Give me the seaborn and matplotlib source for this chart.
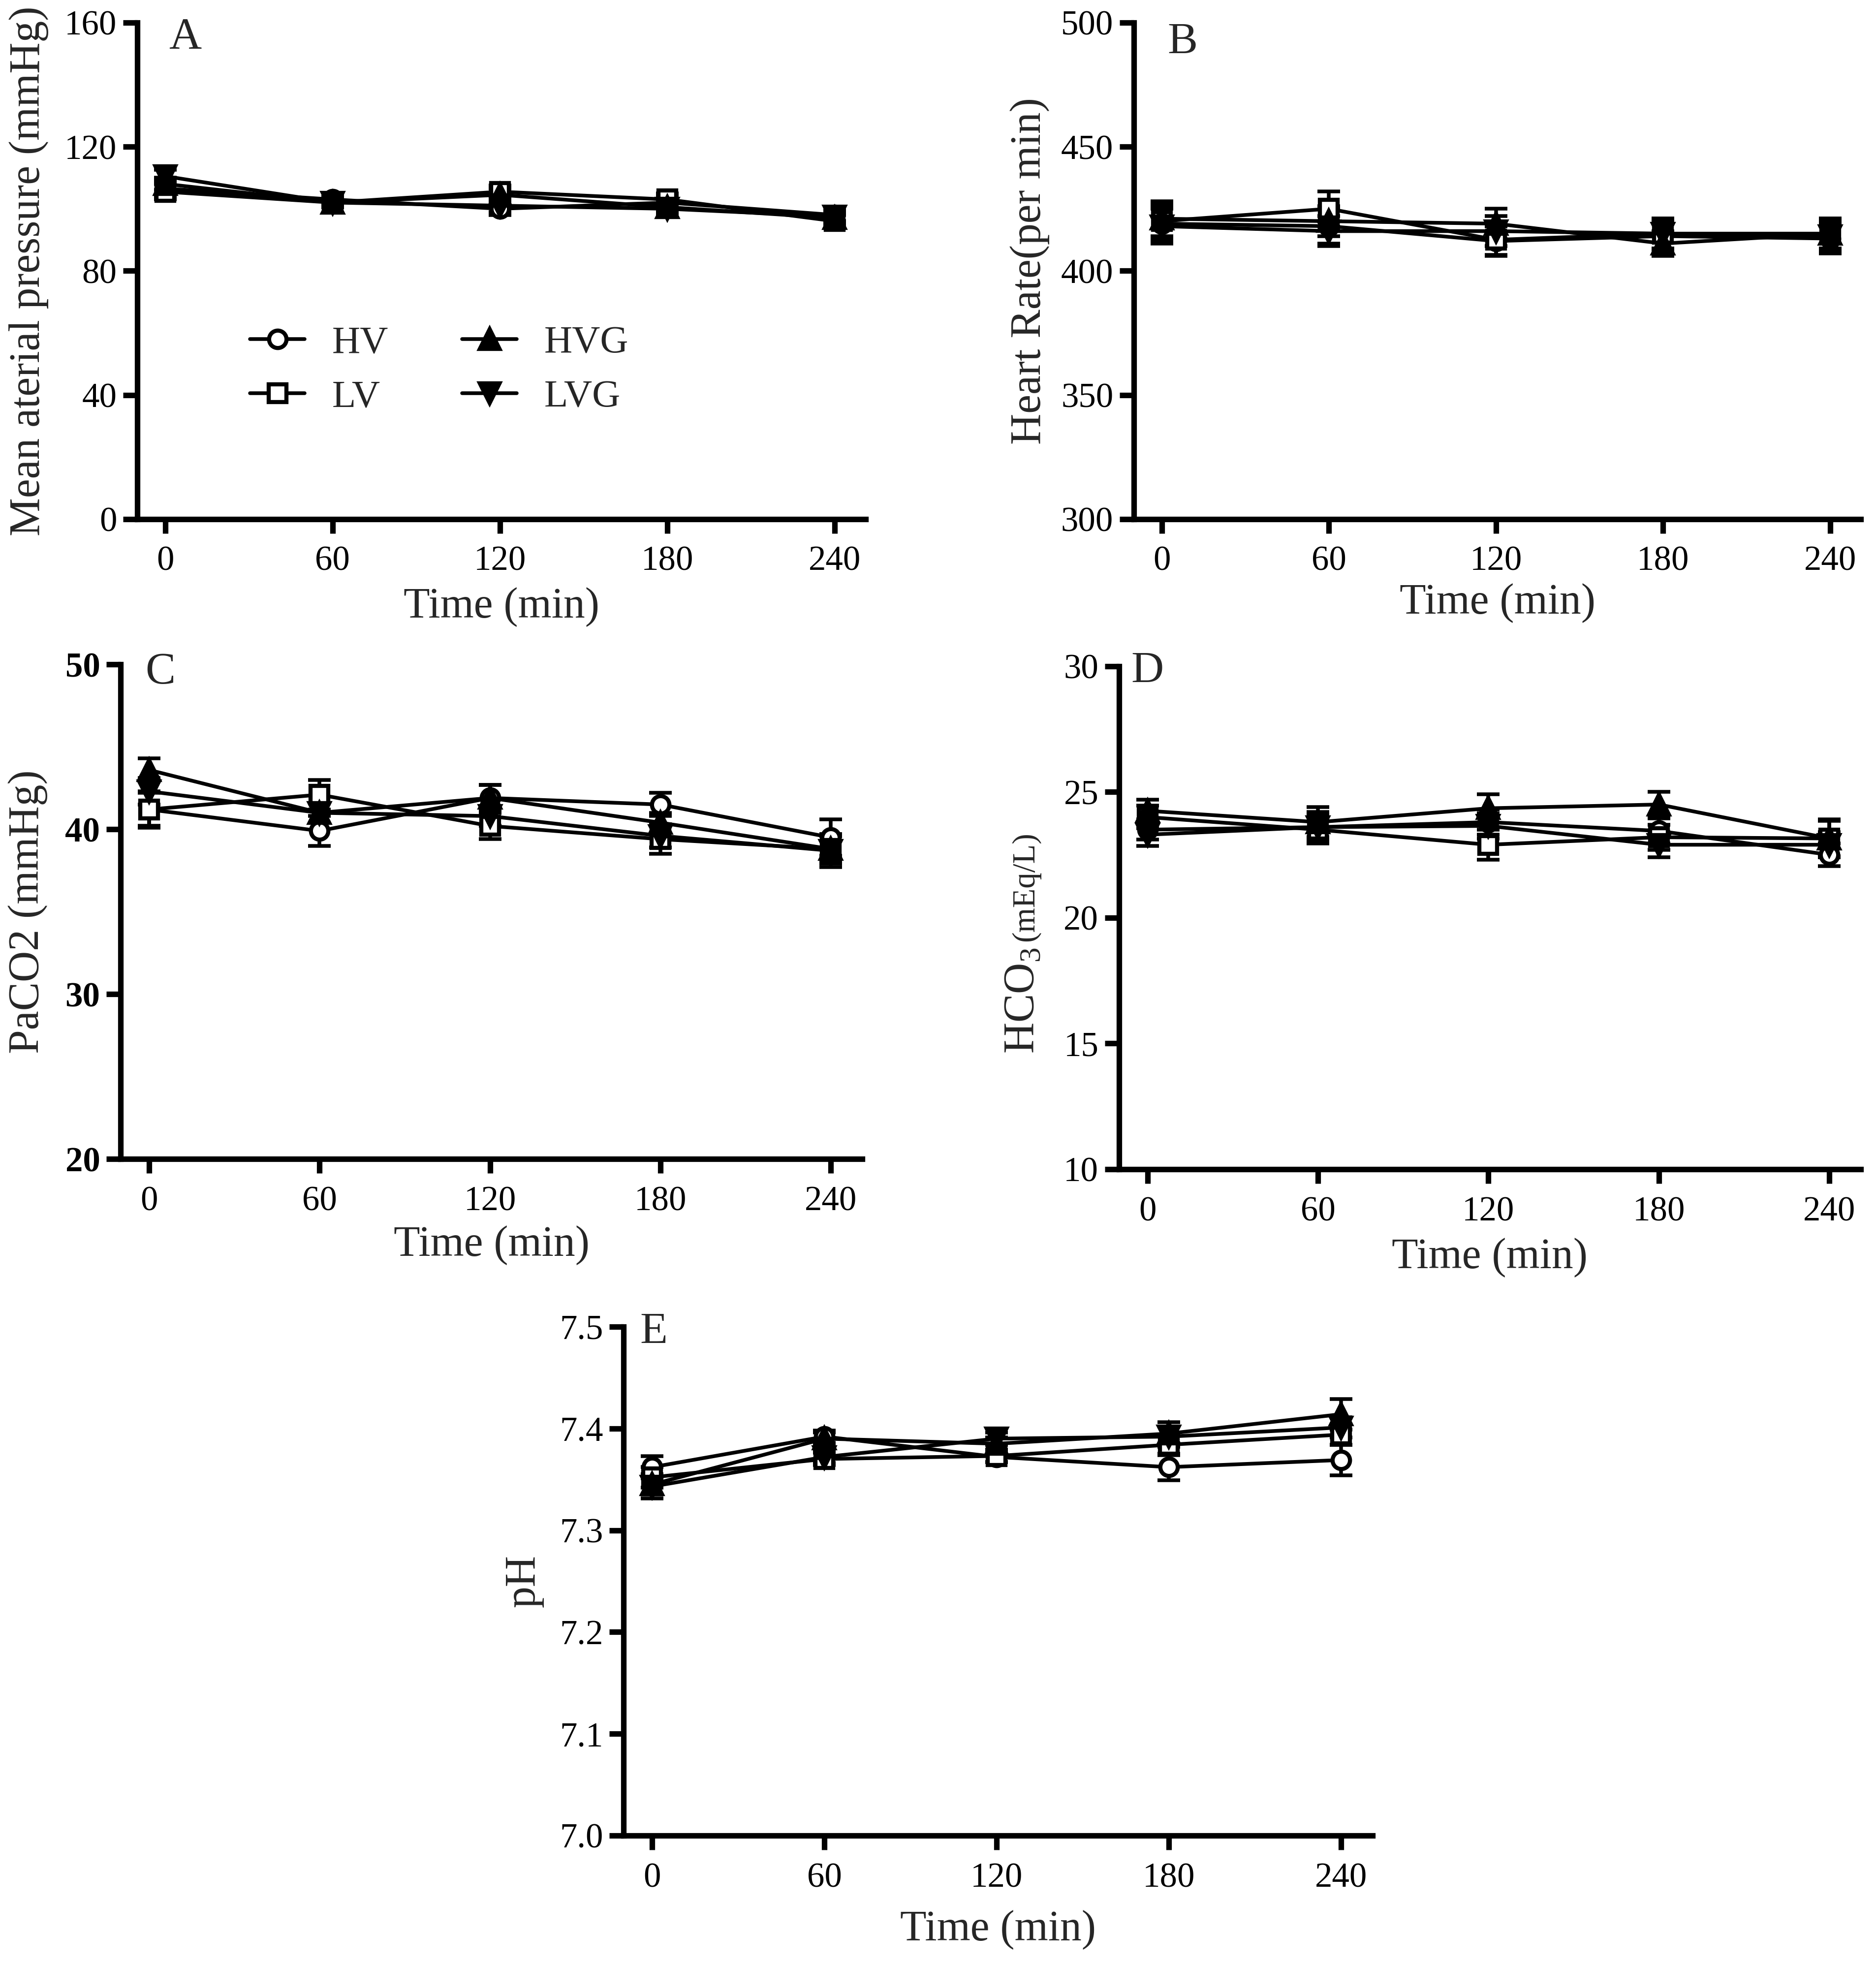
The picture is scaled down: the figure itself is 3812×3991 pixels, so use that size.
import matplotlib
matplotlib.use("Agg")
import pandas as pd
import seaborn as sns
import matplotlib.pyplot as plt

times = [0, 60, 120, 180, 240]
groups = ["HV", "LV", "HVG", "LVG"]

# rows in group order: HV, LV, HVG, LVG
map_mean = [[106.5, 103, 100, 102, 98],
            [105.5, 102, 105.5, 103, 96],
            [108, 102, 104.5, 100.5, 97],
            [110.5, 102, 101, 100, 97.5]]
map_err = [[2.5, 1.5, 2, 2, 2],
           [2.5, 1.5, 2, 2, 2],
           [2, 1.5, 2, 1.5, 2],
           [2, 1.5, 2, 1.5, 2]]

hr_mean = [[419, 418, 412, 414, 413],
           [420, 425, 412.5, 415, 415],
           [421, 420, 419, 411, 415],
           [418, 416, 416, 415, 414]]
hr_err = [[7, 7, 6, 6, 6],
          [7, 7, 6, 6, 6],
          [7, 6, 6, 5, 6],
          [7, 6, 6, 6, 6]]

paco2_mean = [[41.2, 39.9, 41.9, 41.5, 39.5],
              [41.2, 42.1, 40.2, 39.4, 38.8],
              [43.6, 41.0, 41.9, 40.4, 38.8],
              [42.3, 41.0, 40.8, 39.6, 38.7]]
paco2_err = [[1.0, 0.9, 0.8, 0.7, 1.1],
             [1.1, 0.9, 0.8, 0.9, 0.9],
             [0.7, 0.6, 0.8, 0.6, 0.8],
             [0.8, 0.6, 0.6, 0.7, 1.0]]

hco3_mean = [[23.5, 23.6, 23.8, 23.45, 22.5],
             [24.0, 23.5, 22.9, 23.2, 23.15],
             [24.25, 23.8, 24.35, 24.5, 23.15],
             [23.3, 23.6, 23.65, 22.9, 22.9]]
hco3_err = [[0.4, 0.5, 0.5, 0.5, 0.45],
            [0.45, 0.55, 0.6, 0.5, 0.75],
            [0.45, 0.6, 0.55, 0.5, 0.7],
            [0.45, 0.6, 0.5, 0.5, 0.5]]

ph_mean = [[7.362, 7.392, 7.372, 7.362, 7.369],
           [7.352, 7.370, 7.373, 7.384, 7.394],
           [7.345, 7.390, 7.385, 7.395, 7.414],
           [7.343, 7.372, 7.390, 7.392, 7.401]]
ph_err = [[0.011, 0.006, 0.005, 0.013, 0.015],
          [0.010, 0.006, 0.006, 0.010, 0.010],
          [0.010, 0.006, 0.006, 0.011, 0.015],
          [0.012, 0.006, 0.006, 0.010, 0.010]]

sns.set_style("ticks")
plt.rcParams["font.family"] = ["Liberation Serif", "DejaVu Serif"]
plt.rcParams["mathtext.fontset"] = "custom"
plt.rcParams["mathtext.rm"] = "Liberation Serif"
plt.rcParams["axes.edgecolor"] = "black"
plt.rcParams["xtick.color"] = "black"
plt.rcParams["ytick.color"] = "black"

markers = {"HV": "o", "LV": "s", "HVG": "^", "LVG": "v"}
faces = {"HV": "white", "LV": "white", "HVG": "black", "LVG": "black"}
msizes = {"HV": 8.5, "LV": 8.5, "HVG": 9.5, "LVG": 9.5}

fig = plt.figure(figsize=(3812 / 300, 3991 / 300), dpi=300)


def draw_panel(rect, means, errs, ylim, yticks, ylabel, letter, letter_pos,
               ylab_x, xlab_y, bold_ticks=False):
    ax = fig.add_axes(rect)
    handles = []
    for m, e in zip(means, errs):
        ax.errorbar(times, m, yerr=e, fmt="none", ecolor="black",
                    elinewidth=1.8, capsize=5.5, capthick=1.8, zorder=2)
    for g, m in zip(groups, means):
        df = pd.DataFrame({"time": times, "value": m})
        sns.lineplot(data=df, x="time", y="value", ax=ax, color="black",
                     linewidth=1.8, marker=markers[g], markersize=msizes[g],
                     markerfacecolor=faces[g], markeredgecolor="black",
                     markeredgewidth=2, errorbar=None, zorder=3, label=g)
        handles.append(ax.lines[-1])
    if ax.get_legend() is not None:
        ax.get_legend().remove()

    ax.set_xlim(-10, 251)
    ax.set_ylim(ylim)
    ax.set_xticks(times)
    ax.set_yticks(yticks)
    sns.despine(ax=ax)
    for s in ["left", "bottom"]:
        ax.spines[s].set_linewidth(2.7)
    ax.tick_params(width=2.7, length=7, labelsize=17, direction="out")
    ax.tick_params(axis="x", pad=6)
    ax.tick_params(axis="y", pad=3)
    if bold_ticks:
        for lbl in ax.get_yticklabels():
            lbl.set_fontweight("bold")

    ax.set_xlabel("Time (min)", fontsize=21)
    ax.xaxis.set_label_coords(0.5, xlab_y)
    if ylabel:
        ax.set_ylabel(ylabel, fontsize=21)
        ax.yaxis.set_label_coords(ylab_x, 0.5)
    else:
        ax.set_ylabel("")
    ax.text(letter_pos[0], letter_pos[1], letter, transform=ax.transAxes,
            fontsize=22, ha="left", va="top")
    return ax, handles


ax_a, hdl = draw_panel([0.0732, 0.7357, 0.3882, 0.2528], map_mean, map_err,
                       (0, 160), [0, 40, 80, 120, 160],
                       "Mean aterial pressure (mmHg)", "A", (0.043, 1.01),
                       -0.122, -0.137)
ax_a.legend(handles=hdl, labels=groups, ncol=2, loc="upper left",
            bbox_to_anchor=(0.155, 0.39), frameon=False, fontsize=19,
            handlelength=1.4, handletextpad=0.7, columnspacing=1.9,
            labelspacing=0.47, borderpad=0, borderaxespad=0)

draw_panel([0.6044, 0.7357, 0.3875, 0.2528], hr_mean, hr_err,
           (300, 500), [300, 350, 400, 450, 500],
           "Heart Rate(per min)", "B", (0.046, 1.0), -0.116, -0.129)

draw_panel([0.0643, 0.4099, 0.3953, 0.2518], paco2_mean, paco2_err,
           (20, 50), [20, 30, 40, 50],
           "PaCO2 (mmHg)", "C", (0.033, 1.025), -0.098, -0.134,
           bold_ticks=True)

ax_d, _ = draw_panel([0.5965, 0.4047, 0.3953, 0.2561], hco3_mean, hco3_err,
                     (10, 30), [10, 15, 20, 25, 30],
                     "", "D", (0.016, 1.03), -0.094, -0.136)

draw_panel([0.3324, 0.0654, 0.3993, 0.2591], ph_mean, ph_err,
           (7.0, 7.5), [7.0, 7.1, 7.2, 7.3, 7.4, 7.5],
           "pH", "E", (0.022, 1.028), -0.107, -0.146)

# two-size label for panel D, both parts on one baseline
t1 = ax_d.text(-0.115, 0.23, "HCO$_\\mathregular{3}$", rotation=90,
               rotation_mode="anchor", ha="left", va="baseline",
               transform=ax_d.transAxes, fontsize=21)
fig.canvas.draw()
bb = t1.get_window_extent()
top = ax_d.transAxes.inverted().transform((bb.x1, bb.y1))[1]
ax_d.text(-0.115, top + 0.012, "(mEq/L)", rotation=90, rotation_mode="anchor",
          ha="left", va="baseline", transform=ax_d.transAxes, fontsize=15.5)

fig.savefig("out.png", dpi=300)
